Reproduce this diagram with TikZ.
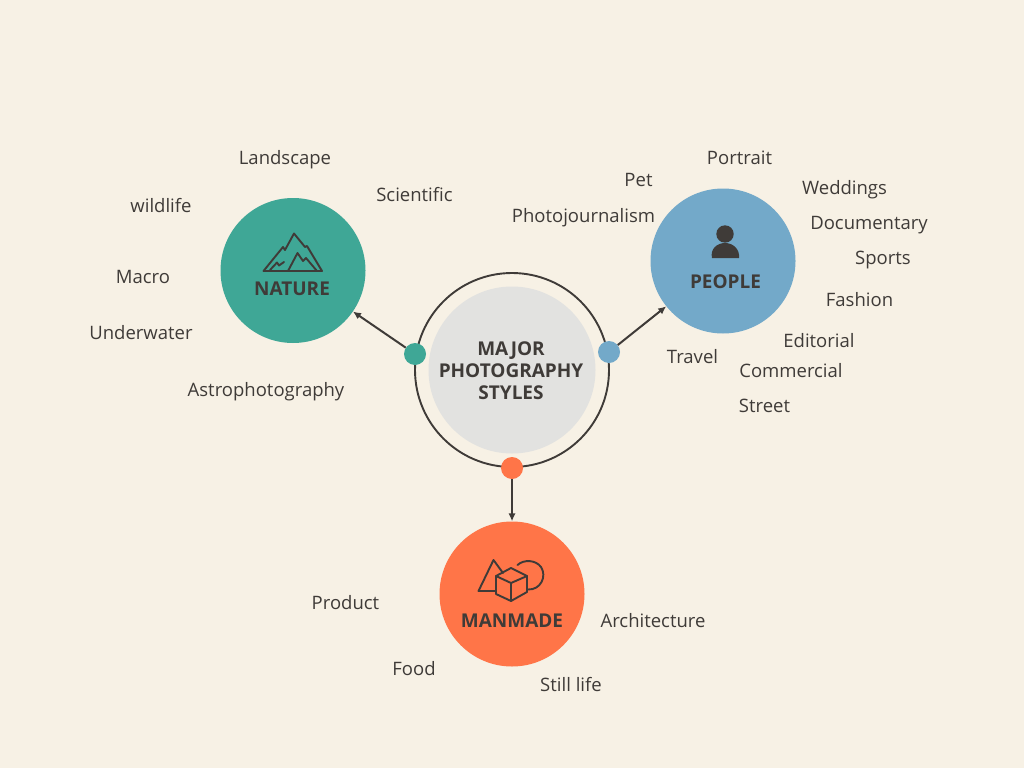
\documentclass[tikz,border=0pt]{standalone}
\usepackage{fontspec}
\setmainfont{Open Sans}
\usetikzlibrary{arrows.meta}
\definecolor{paper}{HTML}{F7F1E5}
\definecolor{ink}{HTML}{3F3B38}
\definecolor{naturecol}{HTML}{3FA796}
\definecolor{peoplecol}{HTML}{73A9C9}
\definecolor{manmadecol}{HTML}{FF7548}
\definecolor{hubcol}{HTML}{E2E2E0}

\begin{document}
\begin{tikzpicture}[
      x=1pt, y=-1pt,
      topic/.style={circle, minimum size=145pt, inner sep=0pt},
      hub/.style={circle, fill=hubcol, minimum size=167pt, inner sep=0pt},
      ring/.style={circle, draw=ink, line width=1.9pt, minimum size=194pt, inner sep=0pt},
      dot/.style={circle, minimum size=22pt, inner sep=0pt},
      head/.style={font=\fontsize{19}{22}\selectfont\bfseries, text=ink, align=center, inner sep=0pt},
      lbl/.style={font=\fontsize{18.5}{22}\selectfont, text=ink, inner sep=0pt, text height=13pt, text depth=4pt, yshift=-2pt},
      icon/.style={draw=ink, line width=1.9pt, line join=round, line cap=round},
      arrow/.style={-{Latex[length=2.8mm,width=2.6mm]}, draw=ink, line width=2pt}
    ]
    \fill[paper] (0,0) rectangle (1024,768);
    \useasboundingbox (0,0) rectangle (1024,768);

    \node[ring] (ring) at (512,370) {};
    \node[hub] (hub) at (512,370) {};
    \node[head] (hubtext) at (511,371) {MAJOR\\PHOTOGRAPHY\\STYLES};

    \node[topic, fill=naturecol] (nature) at (293,270.5) {};
    \node[topic, fill=peoplecol] (people) at (723,261) {};
    \node[topic, fill=manmadecol] (manmade) at (512,594) {};
    \node[head] (naturetext) at (292,289) {NATURE};
    \node[head] (peopletext) at (725.5,282) {PEOPLE};
    \node[head] (manmadetext) at (512,621) {MANMADE};

    \node[dot, fill=naturecol] (naturedot) at (415,354) {};
    \node[dot, fill=peoplecol] (peopledot) at (609,352) {};
    \node[dot, fill=manmadecol] (manmadedot) at (512,468) {};

    \draw[arrow] (naturedot) -- (nature);
    \draw[arrow] (peopledot) -- (people);
    \draw[arrow] (manmadedot) -- (manmade);

    % mountains
    \draw[icon] (263.5,271) -- (283,247) -- (285,250) -- (294,233.5) -- (305,247) -- (307,246) -- (322,271) -- cycle;
    \draw[icon] (288,271) -- (297.5,253) -- (303,261) -- (306,258) -- (317,271);
    \draw[icon] (270,270) -- (277,262.5) -- (279,265.5) -- (284,262);

    % person
    \fill[ink] (725,234) circle (8.7);
    \fill[ink] (712,258) .. controls (710,249) and (717,243) .. (725,243) .. controls (733,243) and (740,249) .. (739,258) -- cycle;

    % shapes
    \draw[icon] (496,591) -- (478.5,591) -- (493.5,560) -- (503,573);
    \draw[icon] (517.5,565) .. controls (524,559) and (536,560) .. (541,567) .. controls (547,576) and (541,590) .. (528,589.5);
    \draw[icon] (511,568) -- (527,576) -- (527,592) -- (511,601) -- (496,594) -- (496,576) -- cycle;
    \draw[icon] (496,576) -- (511,583) -- (527,576);
    \draw[icon] (511,583) -- (511,601);

    \node[lbl] (landscape) at (285,158) {Landscape};
    \node[lbl] (scientific) at (414.5,195) {Scientific};
    \node[lbl] (wildlife) at (161,206) {wildlife};
    \node[lbl] (macro) at (143,277) {Macro};
    \node[lbl] (underwater) at (141,333) {Underwater};
    \node[lbl] (astro) at (266,390) {Astrophotography};

    \node[lbl] (pet) at (638.5,180) {Pet};
    \node[lbl] (portrait) at (739.5,158) {Portrait};
    \node[lbl] (weddings) at (844.5,188) {Weddings};
    \node[lbl] (photojournalism) at (583.5,216) {Photojournalism};
    \node[lbl] (documentary) at (869,223) {Documentary};
    \node[lbl] (sports) at (883,258) {Sports};
    \node[lbl] (fashion) at (859.5,300) {Fashion};
    \node[lbl] (editorial) at (819,341) {Editorial};
    \node[lbl] (travel) at (692.5,357) {Travel};
    \node[lbl] (commercial) at (791,371) {Commercial};
    \node[lbl] (street) at (764.5,406) {Street};

    \node[lbl] (product) at (345.5,603) {Product};
    \node[lbl] (architecture) at (653,621) {Architecture};
    \node[lbl] (food) at (414,669) {Food};
    \node[lbl] (stilllife) at (571,685) {Still life};
  \end{tikzpicture}
\end{document}
